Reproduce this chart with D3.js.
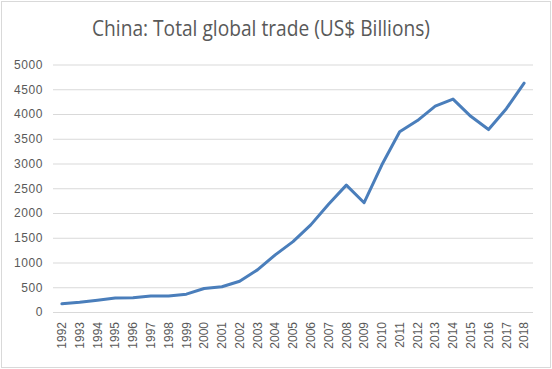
<!DOCTYPE html>
<html><head><meta charset="utf-8">
<script src="https://cdn.jsdelivr.net/npm/d3@7"></script>
<style>body{margin:0;background:#fff}svg{display:block}</style>
</head><body>
<script>
const years = ["1992","1993","1994","1995","1996","1997","1998","1999","2000","2001","2002","2003","2004","2005","2006","2007","2008","2009","2010","2011","2012","2013","2014","2015","2016","2017","2018"];
const trade = [165.5,195.7,236.6,280.9,289.9,325.2,323.9,360.6,474.3,509.7,620.8,851.2,1154.6,1421.9,1760.4,2176.2,2563.3,2207.5,2974.0,3641.9,3867.1,4159.0,4301.5,3953.0,3685.6,4107.1,4623.0];
const yTicks = [0,500,1000,1500,2000,2500,3000,3500,4000,4500,5000];
const title = "China: Total global trade (US$ Billions)";

const W = 552, H = 369;
const svg = d3.select("body").append("svg").attr("width", W).attr("height", H);
svg.append("rect").attr("x",1.5).attr("y",1.5).attr("width",549).attr("height",366)
  .attr("fill","#fff").attr("stroke","#d9d9d9").attr("stroke-width",1);

const x = d3.scaleBand().domain(years).range([53, 533]);
const y = d3.scaleLinear().domain([0, 5000]).range([312, 64.5]);

svg.append("text").attr("x", 261).attr("y", 36).attr("text-anchor","middle")
  .attr("font-family","'Open Sans', sans-serif").attr("font-size",21).attr("fill","#595959")
  .attr("textLength",338).attr("lengthAdjust","spacingAndGlyphs").text(title);

const gy = svg.append("g").attr("transform","translate(53,0)")
  .call(d3.axisLeft(y).tickValues(yTicks).tickSize(-480).tickPadding(10).tickFormat(d3.format("d")));
gy.select(".domain").remove();
gy.selectAll(".tick line").attr("stroke","#d9d9d9").attr("stroke-width",1);
gy.selectAll(".tick text").attr("font-family","'Liberation Sans', Arial, sans-serif").attr("font-size",12).attr("fill","#595959").attr("letter-spacing","0.6px");

const gx = svg.append("g").attr("transform","translate(0,312)")
  .call(d3.axisBottom(x).tickSize(0));
gx.select(".domain").remove();
gx.selectAll(".tick text").attr("font-family","'Liberation Sans', Arial, sans-serif").attr("font-size",12).attr("fill","#595959")
  .attr("transform","rotate(-90)").attr("text-anchor","end").attr("x",-10).attr("y",0).attr("dy","0.35em");

const line = d3.line().x((d,i)=>x(years[i])+x.bandwidth()/2).y(d=>y(d));
svg.append("path").datum(trade).attr("d", line).attr("fill","none")
  .attr("stroke","#4a7ebb").attr("stroke-width",3).attr("stroke-linejoin","round").attr("stroke-linecap","round");
</script>
</body></html>
